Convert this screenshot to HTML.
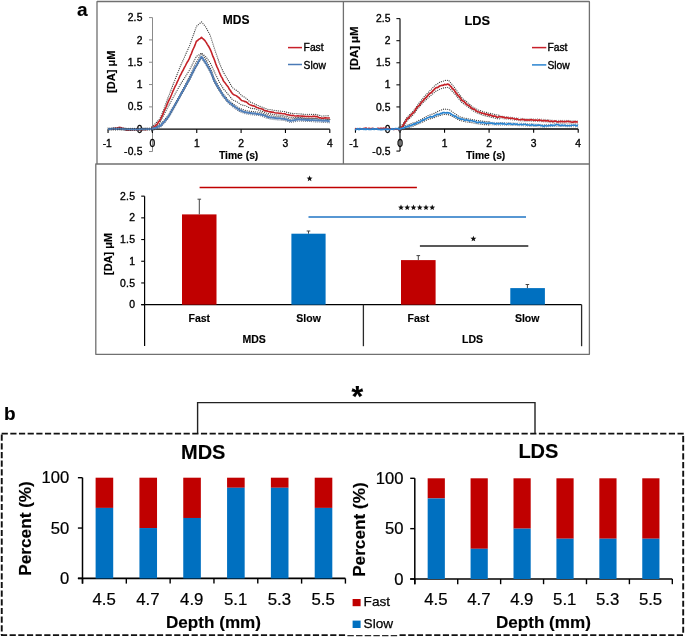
<!DOCTYPE html><html><head><meta charset="utf-8"><style>html,body{margin:0;padding:0;background:#fff;}svg{display:block;will-change:transform;}</style></head><body>
<svg width="685" height="637" viewBox="0 0 685 637" font-family='"Liberation Sans", sans-serif'>
<rect width="685" height="637" fill="#fff"/>
<rect x="97" y="0" width="492.4" height="0.9" fill="#d6d6d6"/>
<text x="77" y="16.4" font-size="19" font-weight="bold" stroke="#000" stroke-width="0.15" text-anchor="start" fill="#000">a</text>
<path d="M97,164 L97,1.6 L589.4,1.6 L589.4,354.3 L95.8,354.3 L95.8,164 L589.4,164 M343.4,1.6 L343.4,164" fill="none" stroke="#707070" stroke-width="1.3" stroke-linejoin="round"/>
<line x1="152.5" y1="17.6" x2="152.5" y2="151.52" stroke="#8a8a8a" stroke-width="1"/>
<line x1="149" y1="17.6" x2="152.5" y2="17.6" stroke="#8a8a8a" stroke-width="1"/>
<text x="142.6" y="21.2" font-size="10.3" stroke="#000" stroke-width="0.35" text-anchor="end" fill="#000" letter-spacing="0.2">2.5</text>
<line x1="149" y1="39.92" x2="152.5" y2="39.92" stroke="#8a8a8a" stroke-width="1"/>
<text x="142.6" y="43.52" font-size="10.3" stroke="#000" stroke-width="0.35" text-anchor="end" fill="#000" letter-spacing="0.2">2</text>
<line x1="149" y1="62.24" x2="152.5" y2="62.24" stroke="#8a8a8a" stroke-width="1"/>
<text x="142.6" y="65.84" font-size="10.3" stroke="#000" stroke-width="0.35" text-anchor="end" fill="#000" letter-spacing="0.2">1.5</text>
<line x1="149" y1="84.56" x2="152.5" y2="84.56" stroke="#8a8a8a" stroke-width="1"/>
<text x="142.6" y="88.16" font-size="10.3" stroke="#000" stroke-width="0.35" text-anchor="end" fill="#000" letter-spacing="0.2">1</text>
<line x1="149" y1="106.88" x2="152.5" y2="106.88" stroke="#8a8a8a" stroke-width="1"/>
<text x="142.6" y="110.48" font-size="10.3" stroke="#000" stroke-width="0.35" text-anchor="end" fill="#000" letter-spacing="0.2">0.5</text>
<line x1="149" y1="129.2" x2="152.5" y2="129.2" stroke="#8a8a8a" stroke-width="1"/>
<text x="142.6" y="132.8" font-size="10.3" stroke="#000" stroke-width="0.35" text-anchor="end" fill="#000" letter-spacing="0.2">0</text>
<line x1="149" y1="151.52" x2="152.5" y2="151.52" stroke="#8a8a8a" stroke-width="1"/>
<text x="142.6" y="155.12" font-size="10.3" stroke="#000" stroke-width="0.35" text-anchor="end" fill="#000" letter-spacing="0.2">-0.5</text>
<line x1="108.05" y1="129.2" x2="329.8" y2="129.2" stroke="#000" stroke-width="1.3"/>
<line x1="108.05" y1="129.2" x2="108.05" y2="133" stroke="#000" stroke-width="1.1"/>
<text x="107.25" y="147.4" font-size="10.3" stroke="#000" stroke-width="0.35" text-anchor="middle" fill="#000">-1</text>
<line x1="152.4" y1="129.2" x2="152.4" y2="133" stroke="#000" stroke-width="1.1"/>
<text x="152.4" y="147.4" font-size="10.3" stroke="#000" stroke-width="0.35" text-anchor="middle" fill="#000">0</text>
<line x1="196.75" y1="129.2" x2="196.75" y2="133" stroke="#000" stroke-width="1.1"/>
<text x="196.75" y="147.4" font-size="10.3" stroke="#000" stroke-width="0.35" text-anchor="middle" fill="#000">1</text>
<line x1="241.1" y1="129.2" x2="241.1" y2="133" stroke="#000" stroke-width="1.1"/>
<text x="241.1" y="147.4" font-size="10.3" stroke="#000" stroke-width="0.35" text-anchor="middle" fill="#000">2</text>
<line x1="285.45" y1="129.2" x2="285.45" y2="133" stroke="#000" stroke-width="1.1"/>
<text x="285.45" y="147.4" font-size="10.3" stroke="#000" stroke-width="0.35" text-anchor="middle" fill="#000">3</text>
<line x1="329.8" y1="129.2" x2="329.8" y2="133" stroke="#000" stroke-width="1.1"/>
<text x="329.8" y="147.4" font-size="10.3" stroke="#000" stroke-width="0.35" text-anchor="middle" fill="#000">4</text>
<text x="219" y="158.6" font-size="10.3" font-weight="bold" stroke="#000" stroke-width="0.15" text-anchor="start" fill="#000">Time (s)</text>
<text x="0" y="0" font-size="10.6" font-weight="bold" stroke="#000" stroke-width="0.15" text-anchor="middle" fill="#000" textLength="42.3" lengthAdjust="spacingAndGlyphs" transform="translate(115.0,71.7) rotate(-90)">[DA] μM</text>
<text x="222.8" y="24" font-size="12" font-weight="bold" stroke="#000" stroke-width="0.15" text-anchor="start" fill="#000">MDS</text>
<line x1="288" y1="47.6" x2="302" y2="47.6" stroke="#c8202a" stroke-width="1.5"/>
<text x="303.6" y="51.4" font-size="10.3" stroke="#000" stroke-width="0.35" text-anchor="start" fill="#000">Fast</text>
<line x1="288" y1="64.5" x2="302" y2="64.5" stroke="#4a7ab6" stroke-width="1.5"/>
<text x="303.6" y="68.6" font-size="10.3" stroke="#000" stroke-width="0.35" text-anchor="start" fill="#000">Slow</text>
<path d="M151.9,126.8 L152.8,125.99 L153.7,125.09 L154.6,124.42 L155.5,123.58 L156.57,122.29 L157.65,121.13 L158.73,119.84 L159.8,118.64 L160.73,116.66 L161.65,114.73 L162.57,112.29 L163.5,110.11 L164.4,107.5 L165.3,105.1 L166.2,102.65 L167.1,100.35 L168.18,97.44 L169.26,94.63 L170.34,91.77 L171.42,89 L172.5,86.12 L173.45,83.67 L174.4,81.29 L175.35,78.85 L176.3,76.39 L177.25,74.12 L178.2,71.67 L179.1,69.39 L180,67.15 L181.04,64.72 L182.09,62.39 L183.13,60.08 L184.18,57.75 L185.22,55.47 L186.27,53.01 L187.31,50.78 L188.36,48.46 L189.4,46.1 L190.41,43.21 L191.43,40.52 L192.44,37.56 L193.46,34.84 L194.47,31.94 L195.49,29.09 L196.5,26.29 L197.5,25.38 L198.5,24.51 L199.5,23.73 L200.5,22.85 L201.5,21.88 L202.47,23.05 L203.45,24.13 L204.43,25.25 L205.4,26.43 L206.34,28.07 L207.28,29.94 L208.22,31.66 L209.16,33.41 L210.1,35.03 L211.04,37.93 L211.98,40.79 L212.92,43.74 L213.86,46.73 L214.8,49.6 L215.9,52.84 L217,55.94 L218.1,59.3 L219.2,62.56 L220.22,64.97 L221.25,67.37 L222.28,69.63 L223.3,72.04 L224.32,73.85 L225.34,75.52 L226.36,77.24 L227.38,78.83 L228.4,80.61 L229.4,82.24 L230.4,84.19 L231.4,85.96 L232.4,87.63 L233.44,88.28 L234.48,89.08 L235.52,89.81 L236.56,90.44 L237.6,91.09 L238.6,92.18 L239.6,93.35 L240.6,94.33 L241.6,95.67 L242.62,96.09 L243.65,96.64 L244.67,97.18 L245.7,97.9 L246.72,98.89 L247.75,99.77 L248.78,100.72 L249.8,101.81 L250.82,102.3 L251.84,102.57 L252.86,103.13 L253.88,103.61 L254.9,103.96 L255.92,104.54 L256.94,105.15 L257.96,105.51 L258.98,105.93 L260,106.43 L260.96,106.77 L261.93,107.13 L262.89,107.45 L263.85,107.94 L264.81,108.17 L265.77,108.61 L266.74,109.02 L267.7,109.28 L268.74,109.38 L269.79,109.59 L270.83,109.73 L271.87,109.92 L272.91,110.08 L273.96,110.3 L275,110.47 L275.98,110.6 L276.96,110.76 L277.93,110.87 L278.91,110.98 L279.89,111.03 L280.87,111.2 L281.84,111.29 L282.82,111.31 L283.8,111.51 L284.84,111.74 L285.89,112.08 L286.93,112.36 L287.97,112.53 L289.01,112.84 L290.06,113.12 L291.1,113.36 L292.09,113.35 L293.07,113.4 L294.06,113.63 L295.04,113.62 L296.03,113.6 L297.01,113.69 L298,113.65 L298.96,113.83 L299.93,113.97 L300.89,114.02 L301.85,114.04 L302.81,114.23 L303.77,114.31 L304.74,114.22 L305.7,114.38 L306.72,114.39 L307.74,114.35 L308.76,114.42 L309.78,114.33 L310.8,114.45 L311.82,114.47 L312.84,114.31 L313.86,114.44 L314.88,114.35 L315.9,114.43 L316.88,114.72 L317.87,115.06 L318.85,115.31 L319.83,115.5 L320.82,115.86 L321.8,116.03 L322.8,116.08 L323.8,115.96 L324.8,115.87 L325.8,115.8 L326.8,115.73 L327.8,115.78 L328.8,115.58 L329.8,115.6" fill="none" stroke="#454545" stroke-width="1.3" stroke-dasharray="0 2.1" stroke-linecap="round"/>
<path d="M151.9,131 L152.8,130.1 L153.7,129.37 L154.6,128.46 L155.5,127.74 L156.57,126.52 L157.65,125.28 L158.73,124.12 L159.8,122.91 L160.73,120.81 L161.65,118.91 L162.57,117.27 L163.5,115.59 L164.4,113.94 L165.3,112.19 L166.2,110.4 L167.1,108.64 L168.18,106.62 L169.26,104.74 L170.34,102.71 L171.42,100.69 L172.5,98.64 L173.45,96.94 L174.4,95.17 L175.35,93.52 L176.3,91.72 L177.25,90.1 L178.2,88.39 L179.1,86.78 L180,85.08 L181.04,83.39 L182.09,81.79 L183.13,80.21 L184.18,78.53 L185.22,76.92 L186.27,75.21 L187.31,73.55 L188.36,72 L189.4,70.2 L190.41,68.21 L191.43,66.28 L192.44,64.28 L193.46,62.24 L194.47,60.26 L195.49,58.23 L196.5,56.28 L197.5,55.69 L198.5,55.05 L199.5,54.38 L200.5,53.71 L201.5,53.18 L202.47,53.87 L203.45,54.69 L204.43,55.53 L205.4,56.28 L206.34,57.47 L207.28,58.78 L208.22,60 L209.16,61.31 L210.1,62.49 L211.04,64.52 L211.98,66.65 L212.92,68.6 L213.86,70.61 L214.8,72.76 L215.9,75.07 L217,77.22 L218.1,79.5 L219.2,81.96 L220.22,83.67 L221.25,85.27 L222.28,86.95 L223.3,88.73 L224.32,89.98 L225.34,91.03 L226.36,92.27 L227.38,93.51 L228.4,94.62 L229.4,95.92 L230.4,97.13 L231.4,98.47 L232.4,99.68 L233.44,100.15 L234.48,100.71 L235.52,101.16 L236.56,101.65 L237.6,102.16 L238.6,102.96 L239.6,103.68 L240.6,104.44 L241.6,105 L242.62,105.15 L243.65,105.34 L244.67,105.55 L245.7,105.84 L246.72,106.28 L247.75,106.89 L248.78,107.51 L249.8,108.08 L250.82,108.17 L251.84,108.4 L252.86,108.53 L253.88,108.61 L254.9,108.75 L255.92,109.04 L256.94,109.45 L257.96,109.74 L258.98,110.25 L260,110.69 L260.96,111.05 L261.93,111.32 L262.89,111.59 L263.85,112.01 L264.81,112.36 L265.77,112.8 L266.74,113.18 L267.7,113.58 L268.74,113.71 L269.79,113.93 L270.83,114.04 L271.87,114.18 L272.91,114.42 L273.96,114.48 L275,114.76 L275.98,114.86 L276.96,115 L277.93,114.95 L278.91,115.08 L279.89,115.35 L280.87,115.3 L281.84,115.47 L282.82,115.61 L283.8,115.7 L284.84,116.05 L285.89,116.33 L286.93,116.48 L287.97,116.71 L289.01,117.14 L290.06,117.32 L291.1,117.55 L292.09,117.57 L293.07,117.59 L294.06,117.75 L295.04,117.73 L296.03,117.83 L297.01,117.94 L298,117.9 L298.96,118.08 L299.93,117.99 L300.89,118.21 L301.85,118.3 L302.81,118.43 L303.77,118.33 L304.74,118.51 L305.7,118.61 L306.72,118.62 L307.74,118.59 L308.76,118.55 L309.78,118.68 L310.8,118.68 L311.82,118.64 L312.84,118.69 L313.86,118.61 L314.88,118.52 L315.9,118.64 L316.88,118.8 L317.87,119.22 L318.85,119.48 L319.83,119.67 L320.82,119.95 L321.8,120.21 L322.8,120.17 L323.8,120.27 L324.8,120.06 L325.8,120.13 L326.8,119.91 L327.8,119.89 L328.8,119.86 L329.8,119.8" fill="none" stroke="#454545" stroke-width="1.3" stroke-dasharray="0 2.1" stroke-linecap="round"/>
<path d="M151.9,127.2 L152.93,126.97 L153.95,126.54 L154.97,126.27 L156,125.95 L156.92,125.46 L157.84,125.06 L158.76,124.78 L159.68,124.3 L160.6,123.98 L161.57,123.03 L162.55,121.97 L163.53,120.77 L164.5,119.72 L165.47,118.54 L166.45,117.47 L167.43,116.1 L168.4,114.95 L169.39,113.18 L170.37,111.44 L171.36,109.78 L172.34,107.97 L173.33,106.27 L174.31,104.59 L175.3,102.84 L176.36,100.88 L177.43,99.06 L178.49,97.11 L179.55,95.27 L180.61,93.24 L181.68,91.27 L182.74,89.32 L183.8,87.39 L184.73,85.53 L185.67,83.69 L186.6,81.85 L187.53,80.05 L188.47,78.24 L189.4,76.59 L190.35,74.59 L191.3,72.61 L192.25,70.56 L193.2,68.62 L194.15,66.56 L195.1,64.62 L196.17,62.65 L197.23,60.79 L198.3,58.85 L199.37,56.91 L200.43,55.17 L201.5,53.1 L202.48,54.73 L203.46,56.2 L204.44,57.57 L205.42,59.14 L206.4,60.73 L207.34,62.52 L208.28,64.22 L209.22,66.04 L210.16,67.82 L211.1,69.52 L212.1,72.37 L213.1,75.18 L214.1,77.94 L215.12,79.91 L216.15,81.73 L217.17,83.68 L218.2,85.43 L219.22,87.21 L220.24,88.83 L221.26,90.65 L222.28,92.4 L223.3,94.01 L224.32,95.23 L225.34,96.46 L226.36,97.61 L227.38,98.86 L228.4,100.12 L229.42,100.95 L230.44,101.72 L231.46,102.56 L232.48,103.35 L233.5,104.21 L234.52,104.92 L235.53,105.53 L236.55,106.29 L237.57,107 L238.58,107.62 L239.6,108.4 L240.62,108.66 L241.64,109.18 L242.66,109.44 L243.68,109.87 L244.7,110.36 L245.72,110.39 L246.73,110.69 L247.75,110.92 L248.77,111.12 L249.78,111.25 L250.8,111.37 L251.82,111.48 L252.84,111.65 L253.87,111.65 L254.89,111.75 L255.91,112.03 L256.93,112.09 L257.96,112.11 L258.98,112.27 L260,112.36 L261.02,112.82 L262.04,113.05 L263.07,113.48 L264.09,113.83 L265.11,114.09 L266.13,114.42 L267.16,114.82 L268.18,115.14 L269.2,115.52 L270.17,115.61 L271.14,115.84 L272.11,115.91 L273.09,116 L274.06,116.27 L275.03,116.44 L276,116.54 L276.98,116.57 L277.95,116.7 L278.93,116.77 L279.9,116.65 L280.88,116.81 L281.85,116.78 L282.82,116.9 L283.8,116.95 L284.74,117.31 L285.69,117.66 L286.63,118.02 L287.57,118.21 L288.51,118.47 L289.46,118.99 L290.4,119.26 L291.4,119.02 L292.4,118.75 L293.4,118.55 L294.4,118.54 L295.4,118.27 L296.4,118.15 L297.4,117.94 L298.4,117.75 L299.34,117.82 L300.29,117.76 L301.23,117.82 L302.17,117.92 L303.11,118.04 L304.06,118.1 L305,118.15 L306,118.15 L307,118.17 L308,118.15 L309,118.28 L310,118.32 L311,118.33 L312,118.41 L313,118.5 L314,118.55 L315,118.45 L316,118.54 L317,118.67 L318,118.75 L319,118.73 L320,118.92 L321,118.89 L321.98,119.02 L322.96,118.94 L323.93,119.06 L324.91,119.07 L325.89,119.29 L326.87,119.3 L327.84,119.46 L328.82,119.45 L329.8,119.5" fill="none" stroke="#454545" stroke-width="1.3" stroke-dasharray="0 2.1" stroke-linecap="round"/>
<path d="M108,129 L109,128.9 L110,128.9 L111,129.05 L112,128.71 L113,128.67 L114,128.65 L115,128.21 L116,128.21 L117,128.08 L118,127.98 L119,127.36 L120,127.63 L121,127.65 L122,128.24 L123,128.32 L124,128.43 L125,129.49 L126,129.98 L127,130.29 L128,130.23 L129,129.91 L130,129.79 L131,130.06 L132,129.74 L133,129.73 L134,129.69 L135,129.48 L136,129.66 L137,129.56 L138,129.81 L139,129.61 L140,129.68 L141,129.6 L142,129.7 L143,129.49 L144,129.31 L145,129.66 L146,129.58 L147,129.4 L147.98,129.26 L148.96,128.97 L149.94,128.86 L150.92,128.83 L151.9,128.64 L152.8,128.23 L153.7,127.19 L154.6,126.63 L155.5,125.53 L156.57,124.67 L157.65,123.41 L158.73,121.7 L159.8,120.63 L160.73,119.05 L161.65,116.78 L162.57,115.09 L163.5,112.74 L164.4,110.47 L165.3,108.73 L166.2,106.74 L167.1,104.36 L168.18,101.83 L169.26,99.56 L170.34,97.52 L171.42,94.97 L172.5,92.17 L173.45,90.18 L174.4,88.03 L175.35,85.94 L176.3,84.31 L177.25,81.87 L178.2,80.04 L179.1,78.02 L180,75.91 L181.04,74.25 L182.09,71.9 L183.13,70.22 L184.18,67.91 L185.22,66.11 L186.27,63.99 L187.31,62.04 L188.36,60.47 L189.4,58.38 L190.41,55.67 L191.43,53.6 L192.44,50.78 L193.46,48.48 L194.47,46.34 L195.49,43.8 L196.5,41.06 L197.5,40.83 L198.5,39.61 L199.5,38.87 L200.5,38.42 L201.5,37.4 L202.47,38.33 L203.45,39.14 L204.43,40.1 L205.4,41.35 L206.34,42.65 L207.28,44.36 L208.22,45.72 L209.16,47.27 L210.1,49.08 L211.04,51.25 L211.98,53.76 L212.92,56.4 L213.86,58.45 L214.8,60.89 L215.9,64.12 L217,66.84 L218.1,69.27 L219.2,72.01 L220.22,74.39 L221.25,76.56 L222.28,78.17 L223.3,80.67 L224.32,82.07 L225.34,83.34 L226.36,84.67 L227.38,85.92 L228.4,87.32 L229.4,89.4 L230.4,90.49 L231.4,92.3 L232.4,93.55 L233.44,94.49 L234.48,94.96 L235.52,95.38 L236.56,95.91 L237.6,96.83 L238.6,97.34 L239.6,98.34 L240.6,99.44 L241.6,100.51 L242.62,100.74 L243.65,100.92 L244.67,101.68 L245.7,101.62 L246.72,102.28 L247.75,103.21 L248.78,104.09 L249.8,104.64 L250.82,105.01 L251.84,105.42 L252.86,105.84 L253.88,105.88 L254.9,106.32 L255.92,107.05 L256.94,107.53 L257.96,107.75 L258.98,108.19 L260,108.55 L260.96,108.65 L261.93,108.95 L262.89,109.3 L263.85,110.2 L264.81,110.43 L265.77,110.95 L266.74,110.75 L267.7,111.48 L268.74,111.56 L269.79,111.88 L270.83,111.81 L271.87,112.39 L272.91,112 L273.96,112.46 L275,112.74 L275.98,112.95 L276.96,112.96 L277.93,113.06 L278.91,113.22 L279.89,113.4 L280.87,113.18 L281.84,113.49 L282.82,113.73 L283.8,113.82 L284.84,113.82 L285.89,114.32 L286.93,114.63 L287.97,114.73 L289.01,115.03 L290.06,115.16 L291.1,115.55 L292.09,115.61 L293.07,115.33 L294.06,115.71 L295.04,115.97 L296.03,115.94 L297.01,115.89 L298,115.73 L298.96,116.03 L299.93,116.02 L300.89,116.03 L301.85,116.35 L302.81,115.99 L303.77,116.48 L304.74,116.13 L305.7,116.56 L306.72,116.49 L307.74,116.34 L308.76,116.62 L309.78,116.5 L310.8,116.57 L311.82,116.75 L312.84,116.35 L313.86,116.21 L314.88,116.38 L315.9,116.61 L316.88,116.6 L317.87,116.87 L318.85,117.59 L319.83,117.73 L320.82,117.88 L321.8,118.44 L322.8,118.03 L323.8,118.17 L324.8,117.83 L325.8,117.91 L326.8,118.07 L327.8,118.07 L328.8,117.99 L329.8,117.7" fill="none" stroke="#c42228" stroke-width="1.6" stroke-linejoin="round"/>
<path d="M108,129 L109,128.97 L110,129.03 L111,129.02 L112,128.79 L113,128.72 L114,128.85 L115,128.79 L116,128.99 L117,128.93 L118,128.87 L119,128.84 L120,128.86 L121,128.72 L122,128.9 L123,128.84 L124,129.2 L125,128.92 L126,129.29 L127,129.05 L128,129.35 L129,129.27 L130,129.36 L131,129.52 L132,129.17 L133,129.16 L134,129.49 L135,129.3 L136,129.12 L137,129.45 L138,129.42 L139,129.07 L140,129.17 L140.99,129.03 L141.98,129.08 L142.97,129.17 L143.97,128.97 L144.96,129.15 L145.95,128.87 L146.94,128.89 L147.93,129.13 L148.93,128.94 L149.92,128.92 L150.91,128.96 L151.9,128.89 L152.93,128.53 L153.95,128.06 L154.97,128.02 L156,127.79 L156.92,127.41 L157.84,126.91 L158.76,126.4 L159.68,126.03 L160.6,125.78 L161.57,124.72 L162.55,123.45 L163.53,122.44 L164.5,121.45 L165.47,120.3 L166.45,119.22 L167.43,117.9 L168.4,116.51 L169.39,115.09 L170.37,113.19 L171.36,111.48 L172.34,109.62 L173.33,107.96 L174.31,106.2 L175.3,104.61 L176.36,102.44 L177.43,100.72 L178.49,98.67 L179.55,96.98 L180.61,94.81 L181.68,93.01 L182.74,91.14 L183.8,89.35 L184.73,87.4 L185.67,85.85 L186.6,84.03 L187.53,82.35 L188.47,80.71 L189.4,79.18 L190.35,77.11 L191.3,75.42 L192.25,73.22 L193.2,71.64 L194.15,69.53 L195.1,67.58 L196.17,65.98 L197.23,64.23 L198.3,62.05 L199.37,60.34 L200.43,58.72 L201.5,56.74 L202.48,58.12 L203.46,59.44 L204.44,60.88 L205.42,62.53 L206.4,64.09 L207.34,65.8 L208.28,67.3 L209.22,68.81 L210.16,70.63 L211.1,72.51 L212.1,75.2 L213.1,77.79 L214.1,80.29 L215.12,82.21 L216.15,83.99 L217.17,85.85 L218.2,87.51 L219.22,89.4 L220.24,91 L221.26,92.32 L222.28,94 L223.3,95.85 L224.32,96.83 L225.34,98.32 L226.36,99.37 L227.38,100.66 L228.4,101.88 L229.42,102.51 L230.44,103.35 L231.46,104.16 L232.48,105.15 L233.5,105.98 L234.52,106.44 L235.53,107.42 L236.55,107.92 L237.57,108.53 L238.58,109.29 L239.6,110.19 L240.62,110.42 L241.64,110.85 L242.66,111.37 L243.68,111.78 L244.7,112.1 L245.72,112.15 L246.73,112.4 L247.75,112.71 L248.77,112.85 L249.78,112.95 L250.8,113.04 L251.82,113.16 L252.84,113.42 L253.87,113.46 L254.89,113.35 L255.91,113.74 L256.93,113.93 L257.96,114 L258.98,114.15 L260,114.26 L261.02,114.46 L262.04,114.9 L263.07,115.09 L264.09,115.32 L265.11,115.76 L266.13,116.09 L267.16,116.68 L268.18,116.93 L269.2,117.22 L270.17,117.39 L271.14,117.34 L272.11,117.64 L273.09,117.85 L274.06,117.87 L275.03,117.96 L276,118.16 L276.98,118.19 L277.95,118.4 L278.93,118.24 L279.9,118.29 L280.88,118.44 L281.85,118.65 L282.82,118.74 L283.8,118.76 L284.74,119.19 L285.69,119.27 L286.63,119.45 L287.57,119.95 L288.51,120.25 L289.46,120.46 L290.4,120.97 L291.4,120.65 L292.4,120.42 L293.4,120.27 L294.4,120.33 L295.4,119.77 L296.4,119.72 L297.4,119.5 L298.4,119.28 L299.34,119.43 L300.29,119.4 L301.23,119.74 L302.17,119.63 L303.11,119.76 L304.06,119.61 L305,119.79 L306,119.88 L307,120.01 L308,119.81 L309,119.93 L310,120.13 L311,120.16 L312,119.95 L313,120.12 L314,120.27 L315,120.18 L316,120.36 L317,120.42 L318,120.6 L319,120.5 L320,120.61 L321,120.54 L321.98,120.76 L322.96,120.66 L323.93,120.8 L324.91,120.81 L325.89,120.86 L326.87,120.85 L327.84,120.96 L328.82,121.15 L329.8,121.2" fill="none" stroke="#5080bc" stroke-width="2.0" stroke-linejoin="round"/>
<path d="M151.9,130.5 L152.93,130.27 L153.95,129.92 L154.97,129.57 L156,129.15 L156.92,128.79 L157.84,128.48 L158.76,128.12 L159.68,127.58 L160.6,127.23 L161.57,126.33 L162.55,125.12 L163.53,124.18 L164.5,123.07 L165.47,121.93 L166.45,120.77 L167.43,119.52 L168.4,118.28 L169.39,116.52 L170.37,114.84 L171.36,113.1 L172.34,111.31 L173.33,109.58 L174.31,107.85 L175.3,106.05 L176.36,104.14 L177.43,102.31 L178.49,100.32 L179.55,98.52 L180.61,96.66 L181.68,94.77 L182.74,92.75 L183.8,90.88 L184.73,89.27 L185.67,87.44 L186.6,85.85 L187.53,83.97 L188.47,82.38 L189.4,80.51 L190.35,78.75 L191.3,76.89 L192.25,74.96 L193.2,73.09 L194.15,71.27 L195.1,69.4 L196.17,67.42 L197.23,65.67 L198.3,63.76 L199.37,62.01 L200.43,60.15 L201.5,58.33 L202.48,59.84 L203.46,61.16 L204.44,62.59 L205.42,63.98 L206.4,65.56 L207.34,67.15 L208.28,68.81 L209.22,70.62 L210.16,72.34 L211.1,74.03 L212.1,76.68 L213.1,79.34 L214.1,82.04 L215.12,83.76 L216.15,85.67 L217.17,87.44 L218.2,89.27 L219.22,90.9 L220.24,92.51 L221.26,94.06 L222.28,95.68 L223.3,97.35 L224.32,98.54 L225.34,99.65 L226.36,101.04 L227.38,102.12 L228.4,103.4 L229.42,104.21 L230.44,104.96 L231.46,105.88 L232.48,106.7 L233.5,107.56 L234.52,108.21 L235.53,108.83 L236.55,109.56 L237.57,110.33 L238.58,110.94 L239.6,111.67 L240.62,111.9 L241.64,112.44 L242.66,112.74 L243.68,113.13 L244.7,113.57 L245.72,113.72 L246.73,113.88 L247.75,114.09 L248.77,114.28 L249.78,114.47 L250.8,114.76 L251.82,114.73 L252.84,114.86 L253.87,114.94 L254.89,115.15 L255.91,115.2 L256.93,115.37 L257.96,115.43 L258.98,115.53 L260,115.7 L261.02,115.96 L262.04,116.47 L263.07,116.75 L264.09,117.06 L265.11,117.43 L266.13,117.86 L267.16,118.11 L268.18,118.43 L269.2,118.74 L270.17,118.92 L271.14,119.14 L272.11,119.25 L273.09,119.33 L274.06,119.59 L275.03,119.58 L276,119.77 L276.98,119.92 L277.95,120.01 L278.93,119.98 L279.9,119.95 L280.88,120.12 L281.85,120.16 L282.82,120.14 L283.8,120.27 L284.74,120.69 L285.69,120.84 L286.63,121.18 L287.57,121.49 L288.51,121.93 L289.46,122.15 L290.4,122.54 L291.4,122.35 L292.4,122.03 L293.4,121.93 L294.4,121.67 L295.4,121.62 L296.4,121.37 L297.4,121.16 L298.4,121.06 L299.34,121.12 L300.29,121.03 L301.23,121.09 L302.17,121.19 L303.11,121.25 L304.06,121.33 L305,121.39 L306,121.53 L307,121.51 L308,121.6 L309,121.57 L310,121.53 L311,121.64 L312,121.59 L313,121.72 L314,121.69 L315,121.91 L316,121.85 L317,122.03 L318,121.96 L319,122.02 L320,122.09 L321,122.26 L321.98,122.33 L322.96,122.38 L323.93,122.41 L324.91,122.4 L325.89,122.48 L326.87,122.51 L327.84,122.75 L328.82,122.66 L329.8,122.8" fill="none" stroke="#56657a" stroke-width="1.1" stroke-dasharray="0 2.0" stroke-linecap="round"/>
<path d="M108,130 L109,130.03 L110,130.05 L111,129.85 L112,130.02 L113,129.98 L114,129.81 L115,129.94 L116,129.93 L117,129.79 L118,129.93 L119,129.79 L120,129.79 L121,129.89 L122,129.96 L123,130.03 L124,130 L125,130.1 L126,130.09 L127,130.17 L128,130.28 L129,130.25 L130,130.37 L131,130.44 L132,130.3 L133,130.33 L134,130.23 L135,130.35 L136,130.2 L137,130.2 L138,130.29 L139,130.21 L140,130.21 L140.99,130.2 L141.98,130.15 L142.97,130.11 L143.97,130.03 L144.96,130 L145.95,129.99 L146.94,129.97 L147.93,129.96 L148.93,130.05 L149.92,129.89 L150.91,129.85 L151.9,129.9" fill="none" stroke="#333" stroke-width="1.1" stroke-dasharray="0 1.9" stroke-linecap="round"/>
<path d="M108,128 L109,127.93 L110,127.98 L111,128.04 L112,127.96 L113,127.91 L114,127.86 L115,127.81 L116,127.97 L117,127.9 L118,127.78 L119,127.84 L120,127.84 L121,127.94 L122,127.88 L123,127.94 L124,127.98 L125,128.12 L126,128.24 L127,128.27 L128,128.21 L129,128.31 L130,128.32 L131,128.31 L132,128.36 L133,128.27 L134,128.27 L135,128.25 L136,128.26 L137,128.33 L138,128.19 L139,128.24 L140,128.18 L140.99,128.13 L141.98,128.11 L142.97,128.18 L143.97,128.17 L144.96,128.12 L145.95,128.13 L146.94,128.07 L147.93,127.96 L148.93,127.92 L149.92,127.96 L150.91,127.95 L151.9,127.9" fill="none" stroke="#333" stroke-width="1.1" stroke-dasharray="0 1.9" stroke-linecap="round"/>
<line x1="400" y1="18.6" x2="400" y2="151.08" stroke="#111" stroke-width="1.2"/>
<line x1="396.4" y1="18.6" x2="400" y2="18.6" stroke="#111" stroke-width="1.1"/>
<text x="390.8" y="22.2" font-size="10.3" stroke="#000" stroke-width="0.35" text-anchor="end" fill="#000" letter-spacing="0.2">2.5</text>
<line x1="396.4" y1="40.68" x2="400" y2="40.68" stroke="#111" stroke-width="1.1"/>
<text x="390.8" y="44.28" font-size="10.3" stroke="#000" stroke-width="0.35" text-anchor="end" fill="#000" letter-spacing="0.2">2</text>
<line x1="396.4" y1="62.76" x2="400" y2="62.76" stroke="#111" stroke-width="1.1"/>
<text x="390.8" y="66.36" font-size="10.3" stroke="#000" stroke-width="0.35" text-anchor="end" fill="#000" letter-spacing="0.2">1.5</text>
<line x1="396.4" y1="84.84" x2="400" y2="84.84" stroke="#111" stroke-width="1.1"/>
<text x="390.8" y="88.44" font-size="10.3" stroke="#000" stroke-width="0.35" text-anchor="end" fill="#000" letter-spacing="0.2">1</text>
<line x1="396.4" y1="106.92" x2="400" y2="106.92" stroke="#111" stroke-width="1.1"/>
<text x="390.8" y="110.52" font-size="10.3" stroke="#000" stroke-width="0.35" text-anchor="end" fill="#000" letter-spacing="0.2">0.5</text>
<line x1="396.4" y1="129" x2="400" y2="129" stroke="#111" stroke-width="1.1"/>
<text x="390.8" y="132.6" font-size="10.3" stroke="#000" stroke-width="0.35" text-anchor="end" fill="#000" letter-spacing="0.2">0</text>
<line x1="396.4" y1="151.08" x2="400" y2="151.08" stroke="#111" stroke-width="1.1"/>
<text x="390.8" y="154.68" font-size="10.3" stroke="#000" stroke-width="0.35" text-anchor="end" fill="#000" letter-spacing="0.2">-0.5</text>
<line x1="355.45" y1="129" x2="578.2" y2="129" stroke="#000" stroke-width="1.3"/>
<line x1="355.45" y1="129" x2="355.45" y2="132.8" stroke="#000" stroke-width="1.1"/>
<text x="353.95" y="147.4" font-size="10.3" stroke="#000" stroke-width="0.35" text-anchor="middle" fill="#000">-1</text>
<line x1="400" y1="129" x2="400" y2="132.8" stroke="#000" stroke-width="1.1"/>
<text x="400" y="147.4" font-size="10.3" stroke="#000" stroke-width="0.35" text-anchor="middle" fill="#000">0</text>
<line x1="444.55" y1="129" x2="444.55" y2="132.8" stroke="#000" stroke-width="1.1"/>
<text x="444.55" y="147.4" font-size="10.3" stroke="#000" stroke-width="0.35" text-anchor="middle" fill="#000">1</text>
<line x1="489.1" y1="129" x2="489.1" y2="132.8" stroke="#000" stroke-width="1.1"/>
<text x="489.1" y="147.4" font-size="10.3" stroke="#000" stroke-width="0.35" text-anchor="middle" fill="#000">2</text>
<line x1="533.65" y1="129" x2="533.65" y2="132.8" stroke="#000" stroke-width="1.1"/>
<text x="533.65" y="147.4" font-size="10.3" stroke="#000" stroke-width="0.35" text-anchor="middle" fill="#000">3</text>
<line x1="578.2" y1="129" x2="578.2" y2="132.8" stroke="#000" stroke-width="1.1"/>
<text x="578.2" y="147.4" font-size="10.3" stroke="#000" stroke-width="0.35" text-anchor="middle" fill="#000">4</text>
<text x="466" y="158.6" font-size="10.3" font-weight="bold" stroke="#000" stroke-width="0.15" text-anchor="start" fill="#000">Time (s)</text>
<text x="0" y="0" font-size="10.6" font-weight="bold" stroke="#000" stroke-width="0.15" text-anchor="middle" fill="#000" textLength="43.4" lengthAdjust="spacingAndGlyphs" transform="translate(358.2,48.25) rotate(-90)">[DA] μM</text>
<text x="464.5" y="25.1" font-size="12.8" font-weight="bold" stroke="#000" stroke-width="0.15" text-anchor="start" fill="#000">LDS</text>
<line x1="532" y1="47.6" x2="546.3" y2="47.6" stroke="#c8202a" stroke-width="1.5"/>
<text x="547.4" y="51.4" font-size="10.3" stroke="#000" stroke-width="0.35" text-anchor="start" fill="#000">Fast</text>
<line x1="532" y1="64.9" x2="546.3" y2="64.9" stroke="#2a84d0" stroke-width="1.5"/>
<text x="547.4" y="68.6" font-size="10.3" stroke="#000" stroke-width="0.35" text-anchor="start" fill="#000">Slow</text>
<path d="M399.09,127.14 L400.1,127.01 L401.1,125.93 L402.1,124.73 L403.1,123.66 L404.15,122.05 L405.2,120.34 L406.25,118.59 L407.3,116.95 L408.3,115.91 L409.3,115.01 L410.3,113.97 L411.3,112.89 L412.3,112 L413.3,111 L414.32,109.65 L415.34,108.22 L416.36,106.96 L417.38,105.46 L418.4,104 L419.4,102.71 L420.4,101.44 L421.4,100.14 L422.4,98.97 L423.4,97.68 L424.4,96.46 L425.4,95.49 L426.4,94.3 L427.4,93.33 L428.4,92.2 L429.4,91.14 L430.38,90.19 L431.37,89.2 L432.35,88.19 L433.33,87.11 L434.32,86.08 L435.3,85.18 L436.32,84.52 L437.34,83.94 L438.36,83.29 L439.38,82.5 L440.4,81.89 L441.45,81.63 L442.5,81.24 L443.55,81.03 L444.6,80.51 L445.55,80.46 L446.5,80.41 L447.45,80.29 L448.4,80.07 L449.37,81.21 L450.34,82.47 L451.31,83.61 L452.29,84.88 L453.26,86 L454.23,87.17 L455.2,88.44 L456.17,89.85 L457.14,91.18 L458.11,92.58 L459.09,93.95 L460.06,95.32 L461.03,96.6 L462,98.05 L463.02,98.98 L464.04,99.73 L465.06,100.61 L466.08,101.47 L467.1,102.11 L468.08,103.1 L469.07,103.9 L470.05,104.65 L471.03,105.54 L472.02,106.42 L473,107.19 L473.98,107.76 L474.97,108.14 L475.95,108.71 L476.93,109.12 L477.92,109.71 L478.9,110.2 L479.9,110.38 L480.9,110.86 L481.9,111.07 L482.9,111.47 L483.9,111.93 L484.9,112.19 L485.88,112.32 L486.87,112.53 L487.85,112.95 L488.83,113.14 L489.82,113.38 L490.8,113.47 L491.83,113.71 L492.87,114.04 L493.9,114.16 L494.93,114.52 L495.97,114.68 L497,114.94 L498,115.15 L499,115.15 L500,115.3" fill="none" stroke="#454545" stroke-width="1.3" stroke-dasharray="0 2.1" stroke-linecap="round"/>
<path d="M399.09,130.74 L400.1,130.75 L401.1,129.6 L402.1,128.42 L403.1,127.24 L404.15,125.64 L405.2,123.99 L406.25,122.19 L407.3,120.57 L408.3,119.42 L409.3,118.54 L410.3,117.49 L411.3,116.57 L412.3,115.61 L413.3,114.67 L414.32,113.24 L415.34,111.95 L416.36,110.49 L417.38,109.09 L418.4,107.79 L419.4,106.68 L420.4,105.58 L421.4,104.36 L422.4,103.31 L423.4,102.22 L424.4,101.34 L425.4,100.49 L426.4,99.45 L427.4,98.48 L428.4,97.72 L429.4,96.79 L430.38,95.92 L431.37,94.93 L432.35,94.13 L433.33,93.26 L434.32,92.56 L435.3,91.55 L436.32,91 L437.34,90.46 L438.36,90.02 L439.38,89.35 L440.4,88.95 L441.45,88.54 L442.5,88.33 L443.55,87.96 L444.6,87.7 L445.55,87.7 L446.5,87.61 L447.45,87.35 L448.4,87.25 L449.37,88.21 L450.34,89.26 L451.31,90.31 L452.29,91.36 L453.26,92.38 L454.23,93.36 L455.2,94.34 L456.17,95.59 L457.14,96.73 L458.11,97.9 L459.09,99.2 L460.06,100.3 L461.03,101.36 L462,102.73 L463.02,103.43 L464.04,104.02 L465.06,104.84 L466.08,105.37 L467.1,106.24 L468.08,106.82 L469.07,107.74 L470.05,108.49 L471.03,109.33 L472.02,109.98 L473,110.83 L473.98,111.37 L474.97,111.69 L475.95,112.19 L476.93,112.74 L477.92,113.14 L478.9,113.61 L479.9,113.95 L480.9,114.37 L481.9,114.78 L482.9,115.09 L483.9,115.47 L484.9,115.71 L485.88,115.94 L486.87,116.25 L487.85,116.38 L488.83,116.57 L489.82,116.8 L490.8,117.13 L491.83,117.44 L492.87,117.6 L493.9,117.75 L494.93,118.04 L495.97,118.39 L497,118.66 L498,118.64 L499,118.79 L500,118.9" fill="none" stroke="#454545" stroke-width="1.3" stroke-dasharray="0 2.1" stroke-linecap="round"/>
<path d="M399.09,127.32 L400.1,127.22 L401.1,127.07 L402.1,126.72 L403.1,126.34 L404.12,126.12 L405.14,125.74 L406.16,125.45 L407.18,125.06 L408.2,124.74 L409.17,124.4 L410.14,123.95 L411.11,123.55 L412.09,123.35 L413.06,122.84 L414.03,122.57 L415,122.3 L415.96,121.74 L416.91,121.3 L417.87,120.89 L418.83,120.43 L419.79,120.11 L420.74,119.59 L421.7,119.07 L422.7,118.6 L423.7,117.95 L424.7,117.36 L425.7,116.74 L426.7,116.33 L427.7,115.66 L428.68,115.36 L429.67,115 L430.65,114.73 L431.63,114.23 L432.62,114.01 L433.6,113.71 L434.62,113.07 L435.64,112.57 L436.66,112.02 L437.68,111.49 L438.7,111.09 L439.62,110.63 L440.53,110.41 L441.45,109.95 L442.37,109.78 L443.28,109.32 L444.2,109.14 L445.2,109.09 L446.2,109.22 L447.2,109.32 L448.2,109.42 L449.2,109.62 L450.27,110.31 L451.35,110.97 L452.43,111.75 L453.5,112.54 L454.52,113.32 L455.54,114.03 L456.56,114.72 L457.58,115.5 L458.6,116.25 L459.58,116.59 L460.57,116.94 L461.55,117.26 L462.53,117.62 L463.52,117.9 L464.5,118.24 L465.48,118.38 L466.47,118.5 L467.45,118.75 L468.43,118.82 L469.42,119.08 L470.4,119.15 L471.37,119.29 L472.34,119.64 L473.31,119.75 L474.29,119.84 L475.26,120.19 L476.23,120.37 L477.2,120.58 L478.17,120.62 L479.14,120.69 L480.11,120.83 L481.09,121.02 L482.06,121.18 L483.03,121.28 L484,121.35 L485,121.39 L486,121.62 L487,121.68 L488,121.73 L489,121.71 L490,121.77" fill="none" stroke="#454545" stroke-width="1.3" stroke-dasharray="0 2.1" stroke-linecap="round"/>
<path d="M399.09,130.52 L400.1,130.48 L401.1,130.12 L402.1,129.92 L403.1,129.53 L404.12,129.26 L405.14,128.89 L406.16,128.62 L407.18,128.17 L408.2,127.99 L409.17,127.46 L410.14,127.1 L411.11,126.86 L412.09,126.57 L413.06,126.19 L414.03,125.82 L415,125.33 L415.96,124.91 L416.91,124.5 L417.87,124.06 L418.83,123.62 L419.79,123.22 L420.74,122.8 L421.7,122.36 L422.7,121.98 L423.7,121.5 L424.7,120.88 L425.7,120.47 L426.7,120.03 L427.7,119.41 L428.68,119.31 L429.67,118.95 L430.65,118.64 L431.63,118.35 L432.62,118.16 L433.6,117.81 L434.62,117.35 L435.64,117.05 L436.66,116.51 L437.68,116.18 L438.7,115.89 L439.62,115.63 L440.53,115.39 L441.45,115.17 L442.37,114.79 L443.28,114.66 L444.2,114.39 L445.2,114.56 L446.2,114.63 L447.2,114.58 L448.2,114.74 L449.2,114.72 L450.27,115.28 L451.35,115.89 L452.43,116.47 L453.5,117 L454.52,117.44 L455.54,118.01 L456.56,118.79 L457.58,119.31 L458.6,119.92 L459.58,120.22 L460.57,120.56 L461.55,120.8 L462.53,121.06 L463.52,121.31 L464.5,121.64 L465.48,121.78 L466.47,121.88 L467.45,122.09 L468.43,122.11 L469.42,122.35 L470.4,122.5 L471.37,122.63 L472.34,122.75 L473.31,122.96 L474.29,123.12 L475.26,123.39 L476.23,123.57 L477.2,123.64 L478.17,123.8 L479.14,124.01 L480.11,124.02 L481.09,124.26 L482.06,124.35 L483.03,124.4 L484,124.57 L485,124.74 L486,124.65 L487,124.78 L488,124.94 L489,124.87 L490,124.97" fill="none" stroke="#454545" stroke-width="1.3" stroke-dasharray="0 2.1" stroke-linecap="round"/>
<path d="M500,115.8 L501,115.89 L502,116.04 L503,116.11 L504,116.2 L505,116.37 L506,116.39 L507,116.68 L508,116.72 L509,116.78 L510,117.05 L511,117.09 L512,117.37 L513,117.46 L514,117.5 L515,117.79 L516,117.76 L517,117.99 L518,117.9 L519,118.06 L520,118.23 L521,118.26 L522,118.37 L523,118.42 L524,118.62 L525,118.77 L526,118.68 L527,118.76 L528,118.75 L529,118.8 L530,118.87 L531,118.79 L532,118.77 L533,118.81 L534,118.87 L535,118.94 L536,118.95 L537,118.83 L538,118.8 L539,118.99 L540,118.92 L541,119.09 L542,119.05 L543,119.2 L544,119.32 L545,119.44 L546,119.4 L547,119.48 L548,119.66 L549,119.7 L550,119.72 L551,119.87 L552,119.95 L553,120.15 L554,120.23 L555,120.22 L556,120.3 L557,120.35 L558,120.37 L559,120.34 L560,120.32 L561,120.3 L562,120.39 L563,120.29 L564,120.25 L565,120.26 L566,120.31 L567,120.34 L568,120.35 L569,120.4 L570,120.53 L571,120.42 L572,120.44 L573,120.49 L574,120.51 L575,120.7 L576,120.71 L577,120.73 L578,120.7" fill="none" stroke="#8a8a8a" stroke-width="1.1" stroke-dasharray="0 2.1" stroke-linecap="round"/>
<path d="M500,118.4 L501,118.4 L502,118.56 L503,118.75 L504,118.87 L505,118.98 L506,119.13 L507,119.12 L508,119.27 L509,119.47 L510,119.63 L511,119.68 L512,119.93 L513,119.97 L514,120.2 L515,120.33 L516,120.36 L517,120.48 L518,120.64 L519,120.71 L520,120.76 L521,120.99 L522,120.97 L523,121.06 L524,121.12 L525,121.39 L526,121.35 L527,121.36 L528,121.34 L529,121.3 L530,121.27 L531,121.4 L532,121.46 L533,121.51 L534,121.35 L535,121.36 L536,121.37 L537,121.4 L538,121.54 L539,121.54 L540,121.64 L541,121.63 L542,121.66 L543,121.87 L544,121.97 L545,121.87 L546,121.94 L547,122.02 L548,122.16 L549,122.33 L550,122.44 L551,122.44 L552,122.53 L553,122.71 L554,122.9 L555,123 L556,122.81 L557,122.82 L558,122.81 L559,122.91 L560,122.89 L561,122.95 L562,122.87 L563,122.97 L564,122.95 L565,122.86 L566,123.02 L567,122.98 L568,122.89 L569,123.07 L570,123.08 L571,123.13 L572,123.13 L573,123.13 L574,123.22 L575,123.24 L576,123.15 L577,123.25 L578,123.3" fill="none" stroke="#8a8a8a" stroke-width="1.1" stroke-dasharray="0 2.1" stroke-linecap="round"/>
<path d="M490,122.07 L491,122.13 L492,122.23 L493,122.32 L494,122.26 L495,122.31 L496,122.47 L497,122.47 L498,122.54 L499,122.57 L500,122.41 L501,122.47 L502,122.44 L503,122.46 L504,122.59 L505,122.44 L506,122.52 L507,122.52 L508,122.55 L509,122.58 L510,122.61 L511,122.8 L512,122.82 L513,122.79 L514,122.91 L515,122.98 L516,122.89 L517,123.01 L518,122.95 L519,123.02 L520,123.07 L520.97,123.13 L521.94,123.21 L522.91,123.2 L523.89,123.24 L524.86,123.37 L525.83,123.33 L526.8,123.44 L527.77,123.49 L528.74,123.57 L529.71,123.47 L530.69,123.52 L531.66,123.67 L532.63,123.61 L533.6,123.7 L534.64,123.77 L535.69,124 L536.73,124.03 L537.78,124.08 L538.82,124.34 L539.87,124.27 L540.91,124.43 L541.96,124.62 L543,124.67 L544,124.68 L545,124.63 L546,124.46 L547,124.37 L548,124.37 L549,124.23 L550,124.15 L551,124.04 L552,124.01 L553,123.94 L554,123.7 L555,123.64 L556,123.63 L557,123.7 L558,123.74 L559,123.78 L560,123.81 L561,123.87 L562,123.91 L563,123.81 L564,123.87 L565,124.03 L566,124.09 L567,123.93 L568,124 L569,124.08 L570,124.09 L571,124.05 L572,124.22 L573,124.19 L574,124.17 L575,124.18 L576,124.17 L577,124.22 L578,124.3" fill="none" stroke="#8a8a8a" stroke-width="1.1" stroke-dasharray="0 2.1" stroke-linecap="round"/>
<path d="M490,124.67 L491,124.69 L492,124.85 L493,124.77 L494,124.97 L495,124.93 L496,125.05 L497,125.17 L498,125.05 L499,125.14 L500,125.19 L501,125.13 L502,125.07 L503,125.04 L504,125.2 L505,125.06 L506,125.21 L507,125.19 L508,125.15 L509,125.24 L510,125.28 L511,125.36 L512,125.33 L513,125.43 L514,125.47 L515,125.45 L516,125.61 L517,125.58 L518,125.69 L519,125.74 L520,125.74 L520.97,125.77 L521.94,125.82 L522.91,125.76 L523.89,125.92 L524.86,126 L525.83,125.99 L526.8,126.03 L527.77,126.11 L528.74,126.1 L529.71,126.22 L530.69,126.24 L531.66,126.12 L532.63,126.31 L533.6,126.31 L534.64,126.44 L535.69,126.49 L536.73,126.72 L537.78,126.69 L538.82,126.86 L539.87,127 L540.91,127.06 L541.96,127.09 L543,127.21 L544,127.22 L545,127.19 L546,126.98 L547,127.01 L548,126.81 L549,126.8 L550,126.69 L551,126.57 L552,126.64 L553,126.47 L554,126.29 L555,126.29 L556,126.26 L557,126.4 L558,126.44 L559,126.39 L560,126.4 L561,126.38 L562,126.58 L563,126.46 L564,126.53 L565,126.62 L566,126.51 L567,126.6 L568,126.71 L569,126.72 L570,126.73 L571,126.64 L572,126.71 L573,126.71 L574,126.79 L575,126.89 L576,126.85 L577,126.95 L578,126.9" fill="none" stroke="#8a8a8a" stroke-width="1.1" stroke-dasharray="0 2.1" stroke-linecap="round"/>
<path d="M355,129 L356,128.66 L357,129.09 L358,129 L359,128.82 L360,128.54 L361,129.02 L362,129 L363,128.69 L364,128.64 L365,128.36 L366,128.17 L367,128.52 L368,128.74 L369,128.29 L370,128.96 L371,128.48 L372,128.5 L373,128.35 L374,129.23 L375,129.01 L376,129.1 L377,128.82 L378,128.26 L379,128.49 L380,128.6 L381,128.21 L382,128.93 L383,128.36 L384,128.13 L385,128.69 L386,128.18 L387,129.01 L388,128.7 L389,128.9 L390,128.83 L391,129.07 L392,128.92 L393.01,128.75 L394.02,129.45 L395.04,128.85 L396.05,129.3 L397.06,128.75 L398.08,129.4 L399.09,129.29 L400.1,129.13 L401.1,128 L402.1,126.71 L403.1,125.71 L404.15,123.46 L405.2,122.08 L406.25,120.69 L407.3,118.43 L408.3,118.1 L409.3,117.08 L410.3,115.67 L411.3,114.65 L412.3,113.74 L413.3,112.7 L414.32,111.89 L415.34,109.98 L416.36,108.29 L417.38,106.99 L418.4,106.2 L419.4,105.26 L420.4,103.64 L421.4,102.45 L422.4,101.33 L423.4,100.32 L424.4,98.85 L425.4,98.2 L426.4,97.15 L427.4,96.21 L428.4,94.81 L429.4,93.8 L430.38,93.05 L431.37,92.65 L432.35,91.21 L433.33,90.52 L434.32,89.34 L435.3,88.24 L436.32,87.61 L437.34,87.68 L438.36,87.05 L439.38,86.09 L440.4,85.77 L441.45,85.46 L442.5,85.36 L443.55,85.11 L444.6,84.32 L445.55,84.72 L446.5,84.57 L447.45,84.11 L448.4,84.24 L449.37,84.99 L450.34,85.99 L451.31,86.97 L452.29,88.64 L453.26,89.1 L454.23,90.11 L455.2,91.87 L456.17,93.12 L457.14,94.13 L458.11,95.72 L459.09,96.28 L460.06,97.74 L461.03,99.04 L462,100.43 L463.02,100.96 L464.04,101.63 L465.06,102.63 L466.08,103.9 L467.1,104.74 L468.08,105.3 L469.07,105.85 L470.05,106.43 L471.03,107.85 L472.02,108.24 L473,109.21 L473.98,109.06 L474.97,109.71 L475.95,110.75 L476.93,111.2 L477.92,111.76 L478.9,111.99 L479.9,112.18 L480.9,112.67 L481.9,113.26 L482.9,113.13 L483.9,113.68 L484.9,113.8 L485.88,114.46 L486.87,113.99 L487.85,114.82 L488.83,115.28 L489.82,114.65 L490.8,115.38 L491.83,115.68 L492.87,116.12 L493.9,116.13 L494.93,116.08 L495.97,116.47 L497,117.21 L498,117.27 L499,116.67 L500,116.74 L501,116.83 L502,116.87 L503,117.35 L504,117.18 L505,117.93 L506,117.88 L507,117.54 L508,118.05 L509,118 L510,118.29 L511,118.19 L512,118.28 L513,118.44 L514,118.75 L515,119.19 L516,119.15 L517,118.79 L518,119.49 L519,119.74 L520,119.75 L521,119.86 L522,119.26 L523,119.77 L524,119.51 L525,120.24 L526,119.72 L527,120.22 L528,119.82 L529,120.23 L530,119.9 L531,119.67 L532,120 L533,119.94 L534,120.49 L535,119.96 L536,120.16 L537,120.22 L538,120.59 L539,119.84 L540,120.37 L541,120.36 L542,120.64 L543,120.92 L544,120.4 L545,120.83 L546,120.75 L547,120.85 L548,120.51 L549,121.28 L550,121.53 L551,121.07 L552,121.14 L553,121.84 L554,121.15 L555,121.22 L556,121.22 L557,121.88 L558,121.83 L559,121.55 L560,121.71 L561,121.17 L562,121.73 L563,121.55 L564,121.62 L565,121.5 L566,121.54 L567,121.41 L568,121.29 L569,121.66 L570,121.53 L571,121.97 L572,122.1 L573,122.05 L574,121.84 L575,121.67 L576,121.84 L577,121.96 L578,122" fill="none" stroke="#c42228" stroke-width="1.7" stroke-linejoin="round"/>
<path d="M355,129.2 L356,129.64 L357,128.81 L358,128.68 L359,129.65 L360,128.82 L361,128.74 L362,129.26 L363,128.94 L364,129.47 L365,128.8 L366,129.51 L367,128.86 L368,129.13 L369,129.45 L370,129.19 L371,129.44 L372,129.23 L373,128.59 L374,129.43 L375,129.16 L376,128.89 L377,128.78 L378,129.46 L379,129.2 L380,129.57 L381,129.42 L382,129.62 L383,129.24 L384,129.39 L385,129.31 L386.01,128.94 L387.01,129.62 L388.02,128.95 L389.03,129.4 L390.03,129.55 L391.04,129.23 L392.05,128.7 L393.05,129.37 L394.06,129.19 L395.07,128.69 L396.07,128.53 L397.08,128.99 L398.09,128.47 L399.09,129.35 L400.1,128.91 L401.1,128.62 L402.1,128.21 L403.1,128.16 L404.12,128.08 L405.14,127.13 L406.16,126.85 L407.18,126.72 L408.2,126.1 L409.17,126.04 L410.14,125.63 L411.11,125.16 L412.09,125.04 L413.06,124.54 L414.03,123.75 L415,124.3 L415.96,123.23 L416.91,122.87 L417.87,122.42 L418.83,122.52 L419.79,122.11 L420.74,121.24 L421.7,120.7 L422.7,119.91 L423.7,120.23 L424.7,119.02 L425.7,118.91 L426.7,118.23 L427.7,117.73 L428.68,117.47 L429.67,117.02 L430.65,116.59 L431.63,116.8 L432.62,116.78 L433.6,116.35 L434.62,115.46 L435.64,115.51 L436.66,114.43 L437.68,114.35 L438.7,114.33 L439.62,114.15 L440.53,113.43 L441.45,113.55 L442.37,112.93 L443.28,112.69 L444.2,112.48 L445.2,112.97 L446.2,112.8 L447.2,112.61 L448.2,112.95 L449.2,112.94 L450.27,113.28 L451.35,114.33 L452.43,114.99 L453.5,115.41 L454.52,116.34 L455.54,116.02 L456.56,117.1 L457.58,117.83 L458.6,118.14 L459.58,118.25 L460.57,119.06 L461.55,119.08 L462.53,119.2 L463.52,119.26 L464.5,120.47 L465.48,119.99 L466.47,119.88 L467.45,120.12 L468.43,120.29 L469.42,121.03 L470.4,120.48 L471.37,120.76 L472.34,120.77 L473.31,121.33 L474.29,121.25 L475.26,121.57 L476.23,122.15 L477.2,122.53 L478.17,122.56 L479.14,121.9 L480.11,122.36 L481.09,122.96 L482.06,122.28 L483.03,122.57 L484,122.99 L485,122.94 L486,123.37 L487,123.4 L488,123.21 L489,123.06 L490,123.1 L491,123.2 L492,123.06 L493,123.72 L494,123.27 L495,124.07 L496,123.88 L497,123.36 L498,123.8 L499,123.9 L500,123.34 L501,123.79 L502,123.33 L503,124.07 L504,123.3 L505,123.93 L506,124.33 L507,124.23 L508,123.65 L509,123.99 L510,123.64 L511,123.88 L512,124.44 L513,124.44 L514,123.67 L515,124.08 L516,124.38 L517,123.96 L518,124.62 L519,124.75 L520,124.45 L520.97,124.3 L521.94,124.83 L522.91,124.54 L523.89,124.26 L524.86,124.39 L525.83,124.32 L526.8,125.04 L527.77,124.75 L528.74,124.98 L529.71,125.15 L530.69,125.35 L531.66,124.6 L532.63,124.86 L533.6,125.37 L534.64,125.37 L535.69,125.11 L536.73,125.49 L537.78,125.14 L538.82,125.22 L539.87,125.22 L540.91,125.66 L541.96,125.62 L543,126.02 L544,126.39 L545,125.49 L546,125.81 L547,126.03 L548,125.68 L549,125.53 L550,125.68 L551,124.86 L552,125.7 L553,125.35 L554,125.39 L555,125.33 L556,124.62 L557,124.62 L558,124.76 L559,125.11 L560,125.57 L561,125.57 L562,125.09 L563,125.33 L564,125.47 L565,125.09 L566,125.76 L567,125.75 L568,125.57 L569,125.77 L570,125.69 L571,125.57 L572,125.26 L573,125.25 L574,125.23 L575,125.08 L576,125.97 L577,125.37 L578,125.6" fill="none" stroke="#2a84d0" stroke-width="1.7" stroke-linejoin="round"/>
<line x1="144.6" y1="196.15" x2="144.6" y2="346" stroke="#000" stroke-width="1.2"/>
<line x1="141.2" y1="196.15" x2="144.6" y2="196.15" stroke="#000" stroke-width="1.1"/>
<text x="135.4" y="199.75" font-size="10.4" stroke="#000" stroke-width="0.35" text-anchor="end" fill="#000" letter-spacing="0.35">2.5</text>
<line x1="141.2" y1="217.85" x2="144.6" y2="217.85" stroke="#000" stroke-width="1.1"/>
<text x="135.4" y="221.45" font-size="10.4" stroke="#000" stroke-width="0.35" text-anchor="end" fill="#000" letter-spacing="0.35">2</text>
<line x1="141.2" y1="239.55" x2="144.6" y2="239.55" stroke="#000" stroke-width="1.1"/>
<text x="135.4" y="243.15" font-size="10.4" stroke="#000" stroke-width="0.35" text-anchor="end" fill="#000" letter-spacing="0.35">1.5</text>
<line x1="141.2" y1="261.25" x2="144.6" y2="261.25" stroke="#000" stroke-width="1.1"/>
<text x="135.4" y="264.85" font-size="10.4" stroke="#000" stroke-width="0.35" text-anchor="end" fill="#000" letter-spacing="0.35">1</text>
<line x1="141.2" y1="282.95" x2="144.6" y2="282.95" stroke="#000" stroke-width="1.1"/>
<text x="135.4" y="286.55" font-size="10.4" stroke="#000" stroke-width="0.35" text-anchor="end" fill="#000" letter-spacing="0.35">0.5</text>
<line x1="141.2" y1="304.65" x2="144.6" y2="304.65" stroke="#000" stroke-width="1.1"/>
<text x="135.4" y="308.25" font-size="10.4" stroke="#000" stroke-width="0.35" text-anchor="end" fill="#000" letter-spacing="0.35">0</text>
<line x1="141.2" y1="304.65" x2="581.6" y2="304.65" stroke="#000" stroke-width="1.3"/>
<line x1="363.4" y1="304.65" x2="363.4" y2="346.2" stroke="#2a2a2a" stroke-width="1.3"/>
<line x1="581.6" y1="304.65" x2="581.6" y2="346.2" stroke="#2a2a2a" stroke-width="1.3"/>
<rect x="182" y="214.4" width="34.5" height="90.25" fill="#c00000"/>
<line x1="199.3" y1="199.2" x2="199.3" y2="214.4" stroke="#444" stroke-width="1"/>
<line x1="197.5" y1="199.2" x2="201.1" y2="199.2" stroke="#444" stroke-width="1"/>
<rect x="291.4" y="233.7" width="34.2" height="70.95" fill="#0070c0"/>
<line x1="308.5" y1="231" x2="308.5" y2="233.7" stroke="#444" stroke-width="1"/>
<line x1="306.7" y1="231" x2="310.3" y2="231" stroke="#444" stroke-width="1"/>
<rect x="401" y="260.1" width="34.6" height="44.55" fill="#c00000"/>
<line x1="418.3" y1="255.6" x2="418.3" y2="260.1" stroke="#444" stroke-width="1"/>
<line x1="416.5" y1="255.6" x2="420.1" y2="255.6" stroke="#444" stroke-width="1"/>
<rect x="510.3" y="288.1" width="34.6" height="16.55" fill="#0070c0"/>
<line x1="527.4" y1="284.5" x2="527.4" y2="288.1" stroke="#444" stroke-width="1"/>
<line x1="525.6" y1="284.5" x2="529.2" y2="284.5" stroke="#444" stroke-width="1"/>
<line x1="199.6" y1="187.5" x2="416.9" y2="187.5" stroke="#c00000" stroke-width="1.5"/>
<line x1="308.5" y1="217.1" x2="526" y2="217.1" stroke="#1f74c4" stroke-width="1.5"/>
<line x1="419.9" y1="246" x2="528.3" y2="246" stroke="#222" stroke-width="1.5"/>
<polygon points="309.6,175.6 310.39,177.61 312.55,177.74 310.88,179.12 311.42,181.21 309.6,180.05 307.78,181.21 308.32,179.12 306.65,177.74 308.81,177.61" fill="#111"/>
<polygon points="401,204.5 401.79,206.51 403.95,206.64 402.28,208.02 402.82,210.11 401,208.95 399.18,210.11 399.72,208.02 398.05,206.64 400.21,206.51" fill="#111"/>
<polygon points="407.25,204.5 408.04,206.51 410.2,206.64 408.53,208.02 409.07,210.11 407.25,208.95 405.43,210.11 405.97,208.02 404.3,206.64 406.46,206.51" fill="#111"/>
<polygon points="413.5,204.5 414.29,206.51 416.45,206.64 414.78,208.02 415.32,210.11 413.5,208.95 411.68,210.11 412.22,208.02 410.55,206.64 412.71,206.51" fill="#111"/>
<polygon points="419.75,204.5 420.54,206.51 422.7,206.64 421.03,208.02 421.57,210.11 419.75,208.95 417.93,210.11 418.47,208.02 416.8,206.64 418.96,206.51" fill="#111"/>
<polygon points="426,204.5 426.79,206.51 428.95,206.64 427.28,208.02 427.82,210.11 426,208.95 424.18,210.11 424.72,208.02 423.05,206.64 425.21,206.51" fill="#111"/>
<polygon points="432.25,204.5 433.04,206.51 435.2,206.64 433.53,208.02 434.07,210.11 432.25,208.95 430.43,210.11 430.97,208.02 429.3,206.64 431.46,206.51" fill="#111"/>
<polygon points="473.4,235.7 474.19,237.71 476.35,237.84 474.68,239.22 475.22,241.31 473.4,240.15 471.58,241.31 472.12,239.22 470.45,237.84 472.61,237.71" fill="#111"/>
<text x="199.3" y="322.1" font-size="10.5" font-weight="bold" stroke="#000" stroke-width="0.15" text-anchor="middle" fill="#000">Fast</text>
<text x="308.6" y="322.1" font-size="10.5" font-weight="bold" stroke="#000" stroke-width="0.15" text-anchor="middle" fill="#000">Slow</text>
<text x="418.4" y="322.1" font-size="10.5" font-weight="bold" stroke="#000" stroke-width="0.15" text-anchor="middle" fill="#000">Fast</text>
<text x="527.2" y="322.1" font-size="10.5" font-weight="bold" stroke="#000" stroke-width="0.15" text-anchor="middle" fill="#000">Slow</text>
<text x="254.2" y="343" font-size="10.5" font-weight="bold" stroke="#000" stroke-width="0.15" text-anchor="middle" fill="#000">MDS</text>
<text x="472.5" y="343" font-size="10.5" font-weight="bold" stroke="#000" stroke-width="0.15" text-anchor="middle" fill="#000">LDS</text>
<text x="0" y="0" font-size="10.4" font-weight="bold" stroke="#000" stroke-width="0.15" text-anchor="middle" fill="#000" textLength="42" lengthAdjust="spacingAndGlyphs" transform="translate(111.7,254) rotate(-90)">[DA] μM</text>
<text x="3.9" y="420.2" font-size="19" font-weight="bold" stroke="#000" stroke-width="0.15" text-anchor="start" fill="#000">b</text>
<path d="M197.6,433.6 L197.6,402.6 L535,402.6 L535,433.6" fill="none" stroke="#222" stroke-width="1.4"/>
<text x="357.3" y="405.9" font-size="30" font-weight="bold" stroke="#000" stroke-width="0.15" text-anchor="middle" fill="#000">*</text>
<line x1="1.63" y1="433.6" x2="683.9" y2="433.6" stroke="#111" stroke-width="1.9" stroke-dasharray="6.2 2.465"/>
<line x1="0.94" y1="635.1" x2="683.9" y2="635.1" stroke="#111" stroke-width="1.9" stroke-dasharray="6.2 2.465"/>
<line x1="1.75" y1="434.6" x2="1.75" y2="635.1" stroke="#111" stroke-width="1.9" stroke-dasharray="6.2 2.465"/>
<line x1="683.2" y1="436" x2="683.2" y2="635.1" stroke="#111" stroke-width="1.9" stroke-dasharray="6.2 2.465"/>
<rect x="346.6" y="633.6" width="51.9" height="3.1" fill="#fff"/>
<line x1="347.4" y1="635.6" x2="397.2" y2="635.6" stroke="#2a2a2a" stroke-width="1.1" stroke-dasharray="6.4 2.265"/>
<text x="181" y="459.4" font-size="20" font-weight="bold" stroke="#000" stroke-width="0.15" text-anchor="start" fill="#000">MDS</text>
<text x="518.4" y="458.4" font-size="20" font-weight="bold" stroke="#000" stroke-width="0.15" text-anchor="start" fill="#000">LDS</text>
<line x1="82.5" y1="477.7" x2="82.5" y2="583.6" stroke="#000" stroke-width="1.5"/>
<line x1="77.9" y1="477.7" x2="82.5" y2="477.7" stroke="#000" stroke-width="1.4"/>
<text x="69.2" y="483.2" font-size="16.6" stroke="#000" stroke-width="0.22" text-anchor="end" fill="#000">100</text>
<line x1="77.9" y1="528.05" x2="82.5" y2="528.05" stroke="#000" stroke-width="1.4"/>
<text x="69.2" y="533.55" font-size="16.6" stroke="#000" stroke-width="0.22" text-anchor="end" fill="#000">50</text>
<line x1="77.9" y1="578.4" x2="82.5" y2="578.4" stroke="#000" stroke-width="1.4"/>
<text x="69.2" y="583.9" font-size="16.6" stroke="#000" stroke-width="0.22" text-anchor="end" fill="#000">0</text>
<line x1="77.9" y1="578.4" x2="345.4" y2="578.4" stroke="#000" stroke-width="1.6"/>
<line x1="82.5" y1="578.4" x2="82.5" y2="583.6" stroke="#000" stroke-width="1.4"/>
<line x1="126.32" y1="578.4" x2="126.32" y2="583.6" stroke="#000" stroke-width="1.4"/>
<line x1="170.14" y1="578.4" x2="170.14" y2="583.6" stroke="#000" stroke-width="1.4"/>
<line x1="213.96" y1="578.4" x2="213.96" y2="583.6" stroke="#000" stroke-width="1.4"/>
<line x1="257.78" y1="578.4" x2="257.78" y2="583.6" stroke="#000" stroke-width="1.4"/>
<line x1="301.6" y1="578.4" x2="301.6" y2="583.6" stroke="#000" stroke-width="1.4"/>
<line x1="345.42" y1="578.4" x2="345.42" y2="583.6" stroke="#000" stroke-width="1.4"/>
<rect x="95.61" y="477.7" width="17.6" height="30.21" fill="#c00000"/>
<rect x="95.61" y="507.91" width="17.6" height="70.49" fill="#0070c0"/>
<text x="104.11" y="604.5" font-size="16.8" stroke="#000" stroke-width="0.22" text-anchor="middle" fill="#000">4.5</text>
<rect x="139.43" y="477.7" width="17.6" height="50.35" fill="#c00000"/>
<rect x="139.43" y="528.05" width="17.6" height="50.35" fill="#0070c0"/>
<text x="147.93" y="604.5" font-size="16.8" stroke="#000" stroke-width="0.22" text-anchor="middle" fill="#000">4.7</text>
<rect x="183.25" y="477.7" width="17.6" height="40.28" fill="#c00000"/>
<rect x="183.25" y="517.98" width="17.6" height="60.42" fill="#0070c0"/>
<text x="191.75" y="604.5" font-size="16.8" stroke="#000" stroke-width="0.22" text-anchor="middle" fill="#000">4.9</text>
<rect x="227.07" y="477.7" width="17.6" height="10.07" fill="#c00000"/>
<rect x="227.07" y="487.77" width="17.6" height="90.63" fill="#0070c0"/>
<text x="235.57" y="604.5" font-size="16.8" stroke="#000" stroke-width="0.22" text-anchor="middle" fill="#000">5.1</text>
<rect x="270.89" y="477.7" width="17.6" height="10.07" fill="#c00000"/>
<rect x="270.89" y="487.77" width="17.6" height="90.63" fill="#0070c0"/>
<text x="279.39" y="604.5" font-size="16.8" stroke="#000" stroke-width="0.22" text-anchor="middle" fill="#000">5.3</text>
<rect x="314.71" y="477.7" width="17.6" height="30.21" fill="#c00000"/>
<rect x="314.71" y="507.91" width="17.6" height="70.49" fill="#0070c0"/>
<text x="323.21" y="604.5" font-size="16.8" stroke="#000" stroke-width="0.22" text-anchor="middle" fill="#000">5.5</text>
<text x="0" y="0" font-size="16.8" font-weight="bold" stroke="#000" stroke-width="0.15" text-anchor="middle" fill="#000" textLength="94.5" lengthAdjust="spacingAndGlyphs" transform="translate(30.8,528.4) rotate(-90)">Percent (%)</text>
<text x="213.5" y="627.6" font-size="17.3" font-weight="bold" stroke="#000" stroke-width="0.15" text-anchor="middle" fill="#000" textLength="95" lengthAdjust="spacingAndGlyphs">Depth (mm)</text>
<line x1="414.8" y1="478.3" x2="414.8" y2="584.2" stroke="#000" stroke-width="1.5"/>
<line x1="410.2" y1="478.3" x2="414.8" y2="478.3" stroke="#000" stroke-width="1.4"/>
<text x="403.4" y="483.8" font-size="16.6" stroke="#000" stroke-width="0.22" text-anchor="end" fill="#000">100</text>
<line x1="410.2" y1="528.65" x2="414.8" y2="528.65" stroke="#000" stroke-width="1.4"/>
<text x="403.4" y="534.15" font-size="16.6" stroke="#000" stroke-width="0.22" text-anchor="end" fill="#000">50</text>
<line x1="410.2" y1="579" x2="414.8" y2="579" stroke="#000" stroke-width="1.4"/>
<text x="403.4" y="584.5" font-size="16.6" stroke="#000" stroke-width="0.22" text-anchor="end" fill="#000">0</text>
<line x1="410.2" y1="579" x2="672.3" y2="579" stroke="#000" stroke-width="1.6"/>
<line x1="414.8" y1="579" x2="414.8" y2="584.2" stroke="#000" stroke-width="1.4"/>
<line x1="457.72" y1="579" x2="457.72" y2="584.2" stroke="#000" stroke-width="1.4"/>
<line x1="500.64" y1="579" x2="500.64" y2="584.2" stroke="#000" stroke-width="1.4"/>
<line x1="543.56" y1="579" x2="543.56" y2="584.2" stroke="#000" stroke-width="1.4"/>
<line x1="586.48" y1="579" x2="586.48" y2="584.2" stroke="#000" stroke-width="1.4"/>
<line x1="629.4" y1="579" x2="629.4" y2="584.2" stroke="#000" stroke-width="1.4"/>
<line x1="672.32" y1="579" x2="672.32" y2="584.2" stroke="#000" stroke-width="1.4"/>
<rect x="427.66" y="478.3" width="17.2" height="20.14" fill="#c00000"/>
<rect x="427.66" y="498.44" width="17.2" height="80.56" fill="#0070c0"/>
<text x="435.96" y="604.5" font-size="16.8" stroke="#000" stroke-width="0.22" text-anchor="middle" fill="#000">4.5</text>
<rect x="470.58" y="478.3" width="17.2" height="70.49" fill="#c00000"/>
<rect x="470.58" y="548.79" width="17.2" height="30.21" fill="#0070c0"/>
<text x="478.88" y="604.5" font-size="16.8" stroke="#000" stroke-width="0.22" text-anchor="middle" fill="#000">4.7</text>
<rect x="513.5" y="478.3" width="17.2" height="50.35" fill="#c00000"/>
<rect x="513.5" y="528.65" width="17.2" height="50.35" fill="#0070c0"/>
<text x="521.8" y="604.5" font-size="16.8" stroke="#000" stroke-width="0.22" text-anchor="middle" fill="#000">4.9</text>
<rect x="556.42" y="478.3" width="17.2" height="60.42" fill="#c00000"/>
<rect x="556.42" y="538.72" width="17.2" height="40.28" fill="#0070c0"/>
<text x="564.72" y="604.5" font-size="16.8" stroke="#000" stroke-width="0.22" text-anchor="middle" fill="#000">5.1</text>
<rect x="599.34" y="478.3" width="17.2" height="60.42" fill="#c00000"/>
<rect x="599.34" y="538.72" width="17.2" height="40.28" fill="#0070c0"/>
<text x="607.64" y="604.5" font-size="16.8" stroke="#000" stroke-width="0.22" text-anchor="middle" fill="#000">5.3</text>
<rect x="642.26" y="478.3" width="17.2" height="60.42" fill="#c00000"/>
<rect x="642.26" y="538.72" width="17.2" height="40.28" fill="#0070c0"/>
<text x="650.56" y="604.5" font-size="16.8" stroke="#000" stroke-width="0.22" text-anchor="middle" fill="#000">5.5</text>
<text x="0" y="0" font-size="16.8" font-weight="bold" stroke="#000" stroke-width="0.15" text-anchor="middle" fill="#000" textLength="94.5" lengthAdjust="spacingAndGlyphs" transform="translate(365.4,529.6) rotate(-90)">Percent (%)</text>
<text x="543.4" y="627.6" font-size="17.3" font-weight="bold" stroke="#000" stroke-width="0.15" text-anchor="middle" fill="#000" textLength="95" lengthAdjust="spacingAndGlyphs">Depth (mm)</text>
<rect x="352.6" y="599" width="8" height="7.2" fill="#c00000"/>
<text x="363.6" y="606.4" font-size="13.6" stroke="#000" stroke-width="0.25" text-anchor="start" fill="#000">Fast</text>
<rect x="352.6" y="620.6" width="8" height="7.4" fill="#0070c0"/>
<text x="363.6" y="628.1" font-size="13.6" stroke="#000" stroke-width="0.25" text-anchor="start" fill="#000">Slow</text>
</svg></body></html>
